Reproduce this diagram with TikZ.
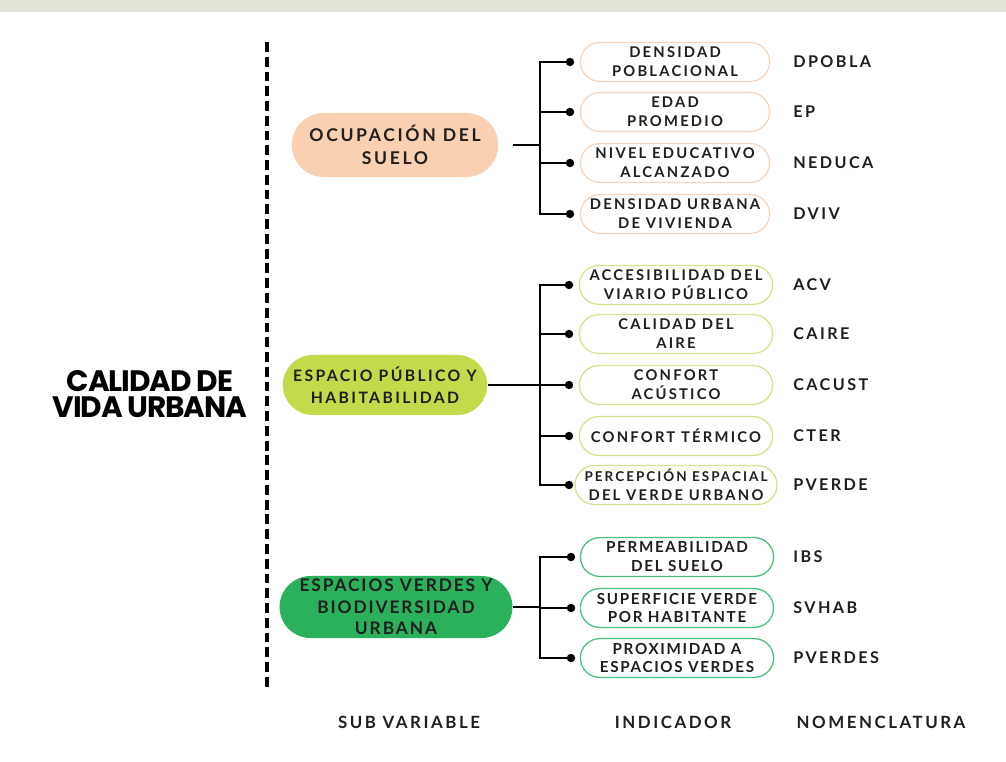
\documentclass[tikz,border=0pt]{standalone}
\usepackage{fontspec}
\setmainfont{Lato}
\newfontfamily\spacedfont[LetterSpace=15]{Lato}
\newfontfamily\tightfont[LetterSpace=11]{Lato}
\newfontfamily\titlefont[LetterSpace=-4]{Poppins}
\usepackage{tikz}
\usetikzlibrary{positioning,calc,shapes.misc}
\definecolor{ocupC}{HTML}{F9D0B2}
\definecolor{ocupL}{HTML}{F4D6BE}
\definecolor{espC}{HTML}{C3DB4B}
\definecolor{espL}{HTML}{D3E48A}
\definecolor{verdC}{HTML}{2BB15C}
\definecolor{verdL}{HTML}{49C07D}
\definecolor{inkC}{HTML}{1F1F1F}
\definecolor{bandC}{HTML}{E2E3D6}
\tikzset{
  subvar/.style={rounded rectangle, fill=#1, inner sep=2pt, align=center,
                 minimum height=1.5cm, text=inkC,
                 font=\spacedfont\bfseries\fontsize{12.5}{16.5}\selectfont},
  ind/.style={rounded rectangle, draw=#1, line width=0.9pt, fill=white,
              minimum width=4.9cm, minimum height=0.97cm, inner sep=1pt,
              align=center, text=inkC,
              font=\spacedfont\bfseries\fontsize{10.5}{13.5}\selectfont},
  code/.style={anchor=west, text=inkC, inner sep=0pt,
               font=\spacedfont\bfseries\fontsize{11.5}{12}\selectfont},
  foot/.style={text=inkC, inner sep=0pt,
               font=\spacedfont\bfseries\fontsize{12}{13}\selectfont},
  dotn/.style={circle, fill=black, inner sep=0pt, minimum size=6pt},
  conn/.style={line width=1.7pt, black},
}
\begin{document}
\begin{tikzpicture}[x=0.025cm, y=-0.025cm]
  \useasboundingbox (0,0) rectangle (1006,762);
  \fill[white] (0,0) rectangle (1006,762);
  \fill[bandC] (0,0) rectangle (1006,12);

  % titulo y separador
  \node[align=center, text=black, font=\titlefont\bfseries\fontsize{21}{19}\selectfont]
    (titulo) at (150,394) {CALIDAD DE\\VIDA URBANA};
  \draw[line width=2.2pt, dash pattern=on 7pt off 3.5pt] (267,42) -- (267,690);

  % sub variables
  \node[subvar=ocupC, minimum width=5.3cm, minimum height=1.6cm] (ocup) at (395,145)
        {OCUPACIÓN DEL\\SUELO};
  \node[subvar=espC, minimum width=5.25cm,
        font=\spacedfont\bfseries\fontsize{11.2}{16}\selectfont] (esp) at (385,385)
        {ESPACIO PÚBLICO Y\\HABITABILIDAD};
  \node[subvar=verdC, minimum width=5.7cm, minimum height=1.55cm,
        font=\tightfont\bfseries\fontsize{12.3}{15.2}\selectfont] (verd) at (396,607)
        {ESPACIOS VERDES Y\\BIODIVERSIDAD\\URBANA};

  \coordinate (j1) at (540,145);
  \coordinate (j2) at (540,385);
  \coordinate (j3) at (540,607);
  \draw[conn, shorten <=10.5pt] (ocup.east) -- (j1);
  \draw[conn] (esp.east) -- (j2);
  \draw[conn] (verd.east) -- (j3);

  % indicadores: ocupacion del suelo
  \foreach \nm/\yy/\txt/\cod in {dpobla/62/{DENSIDAD\\POBLACIONAL}/DPOBLA,
      ep/112/{EDAD\\PROMEDIO}/EP,
      neduca/163/{NIVEL EDUCATIVO\\ALCANZADO}/NEDUCA,
      dviv/214/{DENSIDAD URBANA\\DE VIVIENDA}/DVIV}{
    \node[ind=ocupL, minimum width=4.8cm] (\nm) at (675,\yy) {\txt};
    \node[dotn] (p\nm) at (570,\yy) {};
    \node[code] (c\nm) at (793,\yy) {\cod};
    \draw[conn] (j1) |- (p\nm);
  }

  % indicadores: espacio publico
  \foreach \nm/\yy/\txt/\cod in {acv/285/{ACCESIBILIDAD DEL\\VIARIO PÚBLICO}/ACV,
      caire/334/{CALIDAD DEL\\AIRE}/CAIRE,
      cacust/385/{CONFORT\\ACÚSTICO}/CACUST,
      cter/436/{CONFORT TÉRMICO}/CTER,
      pverde/485/{\fontsize{9.6}{13}\selectfont PERCEPCIÓN ESPACIAL\\DEL VERDE URBANO}/PVERDE}{
    \node[ind=espL] (\nm) at (676,\yy) {\txt};
    \node[dotn] (p\nm) at (569,\yy) {};
    \node[code] (c\nm) at (793,\yy) {\cod};
    \draw[conn] (j2) |- (p\nm);
  }

  % indicadores: espacios verdes
  \foreach \nm/\yy/\txt/\cod in {ibs/557/{PERMEABILIDAD\\DEL SUELO}/IBS,
      svhab/608/{SUPERFICIE VERDE\\POR HABITANTE}/SVHAB,
      pverdes/658/{PROXIMIDAD A\\ESPACIOS VERDES}/PVERDES}{
    \node[ind=verdL, font=\tightfont\bfseries\fontsize{10.8}{13.5}\selectfont]
      (\nm) at (677,\yy) {\txt};
    \node[dotn] (p\nm) at (571,\yy) {};
    \node[code] (c\nm) at (793,\yy) {\cod};
    \draw[conn] (j3) |- (p\nm);
  }

  % encabezados
  \node[foot] (fsub) at (409,722) {SUB VARIABLE};
  \node[foot] (find) at (673,722) {INDICADOR};
  \node[foot] (fnom) at (881,722) {NOMENCLATURA};
\end{tikzpicture}
\end{document}
